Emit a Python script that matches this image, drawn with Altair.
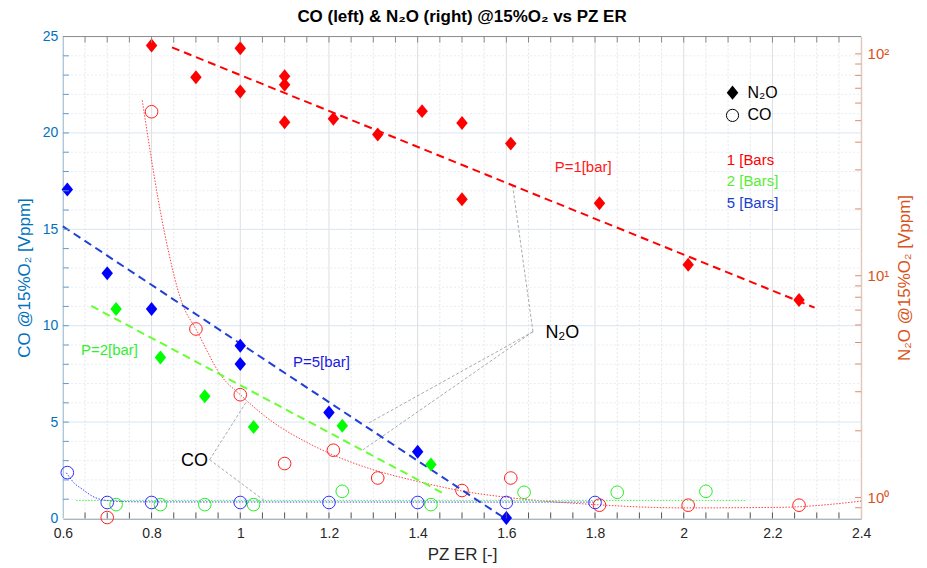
import altair as alt
import pandas as pd

W, H = 800, 483
FONT = "Liberation Sans"

# ---------------- data ----------------
# CO @15%O2 [Vppm]  (left axis, open circles)
co_er_1bar = [0.70, 0.80, 0.90, 1.00, 1.10, 1.21, 1.31, 1.50, 1.61, 1.81, 2.01, 2.26]
co_val_1bar = [0.05, 21.1, 9.83, 6.42, 2.85, 3.54, 2.10, 1.45, 2.10, 0.69, 0.69, 0.69]
co_er_2bar = [0.72, 0.82, 0.92, 1.03, 1.23, 1.43, 1.64, 1.85, 2.05]
co_val_2bar = [0.72, 0.72, 0.72, 0.72, 1.41, 0.72, 1.36, 1.36, 1.41]
co_er_5bar = [0.61, 0.70, 0.80, 1.00, 1.20, 1.40, 1.60, 1.80]
co_val_5bar = [2.38, 0.83, 0.83, 0.83, 0.83, 0.83, 0.83, 0.83]

# N2O @15%O2 [Vppm]  (right log axis, filled diamonds)
n2o_er_1bar = [0.80, 0.90, 1.00, 1.00, 1.10, 1.10, 1.10, 1.21, 1.31, 1.41, 1.50, 1.50, 1.61, 1.81, 2.01, 2.26]
n2o_val_1bar = [109, 78.5, 106, 67.6, 79.3, 72.6, 49.2, 51.0, 43.3, 55.2, 48.8, 22.1, 39.4, 21.2, 11.2, 7.78]
n2o_er_2bar = [0.72, 0.82, 0.92, 1.03, 1.23, 1.43]
n2o_val_2bar = [7.08, 4.28, 2.86, 2.08, 2.11, 1.41]
n2o_er_5bar = [0.61, 0.70, 0.80, 1.00, 1.00, 1.20, 1.40, 1.60]
n2o_val_5bar = [24.5, 10.25, 7.08, 4.83, 4.00, 2.42, 1.61, 0.81]

# N2O exponential fits (straight on the log axis): end points
n2o_fit_er_1bar = [0.846, 2.295]
n2o_fit_val_1bar = [107, 7.18]
n2o_fit_er_2bar = [0.664, 1.46]
n2o_fit_val_2bar = [7.31, 1.04]
n2o_fit_er_5bar = [0.60, 1.595]
n2o_fit_val_5bar = [16.7, 0.81]

# CO fit curves (thin dotted)
co_fit_er_1bar = [0.779, 0.828, 0.869, 0.90, 0.958, 1.0, 1.056, 1.175, 1.29, 1.399, 1.504, 1.60, 1.80, 2.0, 2.22, 2.40]
co_fit_val_1bar = [21.69, 14.96, 11.16, 9.83, 7.37, 6.42, 5.3, 3.66, 2.6, 1.93, 1.41, 1.10, 0.72, 0.55, 0.58, 0.90]
co_fit_er_2bar = [0.63, 2.14]
co_fit_val_2bar = [0.93, 0.93]
co_fit_er_5bar = [0.608, 0.625, 0.645, 0.667, 0.70, 0.75, 0.80, 1.80]
co_fit_val_5bar = [2.37, 1.85, 1.5, 1.15, 0.93, 0.87, 0.86, 0.85]

# annotation arrows (left-axis data coordinates)
arrow_x1 = [1.660, 1.660, 1.660, 0.931, 0.931]
arrow_y1 = [9.69, 9.69, 9.69, 3.05, 3.05]
arrow_x2 = [1.614, 1.287, 1.276, 1.014, 1.056]
arrow_y2 = [17.29, 4.92, 3.55, 6.06, 0.90]

# text annotations (left-axis data coordinates)
note_text = ["N₂O", "P=1[bar]", "P=2[bar]", "P=5[bar]", "N₂O", "CO", "1 [Bars", "2 [Bars]", "5 [Bars]"]
note_x = [1.688, 1.709, 0.641, 1.119, 2.144, 2.144, 2.097, 2.097, 2.097]
note_y = [9.61, 18.24, 8.75, 8.14, 22.09, 20.91, 18.62, 17.51, 16.39]
note_color = ["#000000", "#ff1a1a", "#33ee33", "#1a1ae0", "#000000", "#000000", "#ff0000", "#55ee33", "#1a40d0"]
note_size = [18, 15, 15, 15, 16, 16, 15, 15, 15]
co_note = ["CO"]
co_note_x = [0.927]
co_note_y = [2.97]

key_labels = ["N₂O", "CO"]
key_x = [2.110, 2.110]
key_y = [22.09, 20.91]

# ticks / grid positions
x_major = [round(0.6 + 0.2 * i, 2) for i in range(10)]
x_all = [round(0.6 + 0.05 * i, 2) for i in range(37)]
x_minor = [v for v in x_all if v not in x_major]
y_major = [0, 5, 10, 15, 20, 25]
y_all = list(range(0, 26))
y_minor = [v for v in y_all if v not in y_major]
yr_major = [1, 10, 100]
yr_minor = [0.9] + [m * d for d in (1, 10) for m in range(2, 10)]

DIAMOND = "M0,-1L0.82,0L0,1L-0.82,0Z"

# ---------------- scales / axes ----------------
def xs():
    return alt.Scale(domain=[0.6, 2.4], nice=False, zero=False)


def yl():
    return alt.Scale(domain=[0, 25], nice=False, zero=False)


def yr():
    return alt.Scale(type="log", domain=[0.805, 119.7], nice=False)


def x_axis():
    return alt.Axis(orient="bottom", values=x_major, format="~g", ticks=False, grid=False,
                    domainColor="#666666", labelColor="#262626", labelFont=FONT, labelFontSize=14,
                    labelPadding=8, labelFlush=False, labelOverlap=False,
                    title="PZ ER [-]", titleFont=FONT, titleFontSize=17, titleFontWeight="normal",
                    titleColor="#262626", titlePadding=6)


yl_axis = alt.Axis(orient="left", values=y_major, ticks=False, grid=False, domainColor="#7fb3dd",
                   labelColor="#0072BD", labelFont=FONT, labelFontSize=14, labelPadding=5,
                   title="CO @15%O₂ [Vppm]", titleFont=FONT, titleFontSize=17,
                   titleFontWeight="normal", titleColor="#0072BD", titlePadding=9)
yr_axis = alt.Axis(orient="right", values=yr_major, ticks=False, grid=False, domainColor="#e39a7c",
                   labelExpr="datum.value == 1 ? '10⁰' : (datum.value == 10 ? '10¹' : '10²')",
                   labelColor="#D95319", labelFont=FONT, labelFontSize=15, labelPadding=6,
                   title="N₂O @15%O₂ [Vppm]", titleFont=FONT, titleFontSize=17,
                   titleFontWeight="normal", titleColor="#D95319", titlePadding=8,
                   titleAngle=270, titleBaseline="top")


def vals(v):
    return pd.DataFrame({"v": v})


def xy(x, y):
    return pd.DataFrame({"x": x, "y": y})


def X(f="x"):
    return alt.X(f"{f}:Q", scale=xs(), axis=x_axis())


def YL(f="y", axis=None):
    return alt.Y(f"{f}:Q", scale=yl(), axis=axis)


def YR(f="y", axis=None):
    return alt.Y(f"{f}:Q", scale=yr(), axis=axis)


layers = []

# grid
layers.append(alt.Chart(vals(x_major)).mark_rule(color="#dedede", strokeWidth=1).encode(
    x=X("v"), y=alt.value(0), y2=alt.value(H)))
layers.append(alt.Chart(vals(x_minor)).mark_rule(color="#e6e6e6", strokeDash=[2, 2], strokeWidth=1).encode(
    x=X("v"), y=alt.value(0), y2=alt.value(H)))
layers.append(alt.Chart(vals(y_minor)).mark_rule(color="#e6edf5", strokeDash=[2, 2], strokeWidth=1).encode(
    y=YL("v"), x=alt.value(0), x2=alt.value(W)))
layers.append(alt.Chart(vals(y_major)).mark_rule(color="#d8e5f2", strokeWidth=1).encode(
    y=YL("v", yl_axis), x=alt.value(0), x2=alt.value(W)))
layers.append(alt.Chart(vals([0])).mark_rule(color="#8c8c8c", strokeWidth=1).encode(
    x=alt.value(0), x2=alt.value(W), y=alt.value(0)))

# CO fit curves
co_fit_sets = [(co_fit_er_1bar, co_fit_val_1bar, "#ff4040"),
               (co_fit_er_2bar, co_fit_val_2bar, "#55ee55"),
               (co_fit_er_5bar, co_fit_val_5bar, "#4040ff")]
for ex, ey, col in co_fit_sets:
    layers.append(alt.Chart(xy(ex, ey)).mark_line(color=col, strokeWidth=1, strokeDash=[1.5, 1.5],
                                                  interpolate="monotone").encode(x=X(), y=YL()))

# annotation arrows
arrows = pd.DataFrame({"x": arrow_x1, "y": arrow_y1, "x2": arrow_x2, "y2": arrow_y2})
layers.append(alt.Chart(arrows).mark_rule(color="#aaaaaa", strokeDash=[3, 2], strokeWidth=1).encode(
    x=X(), y=YL(), x2="x2:Q", y2="y2:Q"))

# CO circles
co_sets = [(co_er_1bar, co_val_1bar, "#ff2020"),
           (co_er_2bar, co_val_2bar, "#22ee22"),
           (co_er_5bar, co_val_5bar, "#3030ff")]
for ex, ey, col in co_sets:
    layers.append(alt.Chart(xy(ex, ey)).mark_point(shape="circle", filled=False, size=160,
                                                   strokeWidth=1, color=col, opacity=1).encode(x=X(), y=YL()))

# N2O fits
fit_sets = [(n2o_fit_er_1bar, n2o_fit_val_1bar, "#ff0000"),
            (n2o_fit_er_2bar, n2o_fit_val_2bar, "#66ff33"),
            (n2o_fit_er_5bar, n2o_fit_val_5bar, "#1f3fd6")]
for ex, ey, col in fit_sets:
    layers.append(alt.Chart(xy(ex, ey)).mark_line(color=col, strokeWidth=2, strokeDash=[8, 5]).encode(
        x=X(), y=YR()))

# N2O diamonds
n2o_sets = [(n2o_er_1bar, n2o_val_1bar, "#ff0000"),
            (n2o_er_2bar, n2o_val_2bar, "#00ff00"),
            (n2o_er_5bar, n2o_val_5bar, "#0000ff")]
for ex, ey, col in n2o_sets:
    layers.append(alt.Chart(xy(ex, ey)).mark_point(shape=DIAMOND, filled=True, size=196,
                                                   color=col, opacity=1).encode(x=X(), y=YR()))

# texts
notes = pd.DataFrame({"x": note_x, "y": note_y, "label": note_text, "color": note_color, "fs": note_size})
layers.append(alt.Chart(notes).mark_text(align="left", baseline="middle", font=FONT).encode(
    x=X(), y=YL(), text="label:N",
    color=alt.Color("color:N", scale=None), size=alt.Size("fs:Q", scale=None)))
conote = pd.DataFrame({"x": co_note_x, "y": co_note_y, "label": co_note})
layers.append(alt.Chart(conote).mark_text(align="right", baseline="middle", font=FONT,
                                          fontSize=18, color="#000000").encode(
    x=X(), y=YL(), text="label:N"))

# key symbols
key_df = pd.DataFrame({"x": key_x, "y": key_y, "label": key_labels})
layers.append(alt.Chart(key_df.iloc[[0]]).mark_point(shape=DIAMOND, filled=True, size=200,
                                                     color="#000000", opacity=1).encode(x=X(), y=YL()))
layers.append(alt.Chart(key_df.iloc[[1]]).mark_point(shape="circle", filled=False, size=150,
                                                     strokeWidth=1, color="#000000", opacity=1).encode(
    x=X(), y=YL()))

# inward ticks
layers.append(alt.Chart(vals(x_all[1:-1])).mark_rule(color="#555555", strokeWidth=1).encode(
    x=X("v"), y=alt.value(H), y2=alt.value(H - 6)))
layers.append(alt.Chart(vals(x_all[1:-1])).mark_rule(color="#888888", strokeWidth=1).encode(
    x=X("v"), y=alt.value(0), y2=alt.value(6)))
layers.append(alt.Chart(vals(y_all[1:-1])).mark_rule(color="#5a9bd5", strokeWidth=1).encode(
    y=YL("v"), x=alt.value(0), x2=alt.value(6)))
layers.append(alt.Chart(vals(yr_major + yr_minor)).mark_rule(color="#e08a66", strokeWidth=1).encode(
    y=YR("v", yr_axis), x=alt.value(W), x2=alt.value(W - 6)))

chart = alt.layer(*layers).resolve_scale(y="independent").properties(
    width=W, height=H,
    title=alt.TitleParams(text="CO (left) & N₂O (right) @15%O₂ vs PZ ER", font=FONT, fontSize=17,
                          fontWeight="bold", color="#000000", anchor="middle", frame="group", offset=4),
    autosize=alt.AutoSizeParams(type="none"),
    padding={"left": 55, "top": 28, "right": 58, "bottom": 46},
).configure_view(stroke=None)

chart.save("out.html", embed_options={"renderer": "svg", "actions": False})
